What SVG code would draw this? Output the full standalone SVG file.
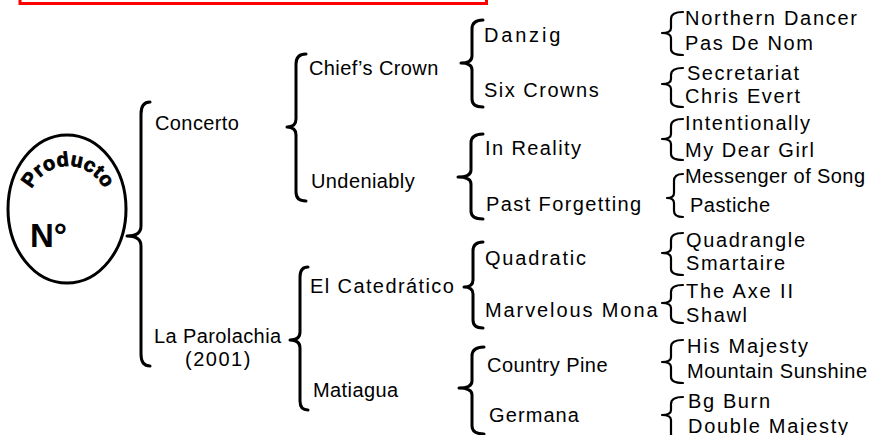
<svg xmlns="http://www.w3.org/2000/svg" width="875" height="435" viewBox="0 0 875 435">
<defs>
<style>
.br{fill:none;stroke:#000;stroke-width:3;stroke-linecap:round;stroke-linejoin:round}
.br4{fill:none;stroke:#000;stroke-width:2.2;stroke-linecap:round;stroke-linejoin:round}
text{font-family:"Liberation Sans",Arial,sans-serif;fill:#000}
.l1{font-size:20px;letter-spacing:0.4px}
.l3{font-size:20px}
.l4{font-size:20px}
.bold{font-weight:bold}
</style>
<path id="arc" d="M 30.4,219.7 A 40,40 0 1,1 105.6,219.7"/>
</defs>
<rect x="20" y="-20" width="466.5" height="23.5" fill="none" stroke="#ff0000" stroke-width="3"/>
<g id="producto">
<ellipse cx="67" cy="209" rx="59" ry="74" fill="#fff" stroke="#000" stroke-width="3"/>
<text class="bold" font-size="20" stroke="#000" stroke-width="0.8" style="letter-spacing:0.3px"><textPath href="#arc" startOffset="50%" text-anchor="middle">Producto</textPath></text>
<text class="bold" x="30" y="247" font-size="33">N°</text>
</g>
<g id="connectors">
<path class="br" d="M150,102 Q141,102 141,114 L141,226 Q141,236 127,236 Q141,236 141,246 L141,354 Q141,366 150,366"/>
<path class="br" d="M306,54 Q296,54 296,64 L296,119 Q296,127 287,127 Q296,127 296,135 L296,192 Q296,201 306,201"/>
<path class="br" d="M308,267 Q300,267 300,277 L300,332 Q300,340 290,340 Q300,340 300,348 L300,401 Q300,410 308,410"/>
<path class="br" d="M483,20 Q472,20 472,29 L472,56 Q472,63 461,63 Q472,63 472,70 L472,99 Q472,107 483,107"/>
<path class="br" d="M483,134 Q471,134 471,143 L471,170 Q471,177 458,177 Q471,177 471,184 L471,211 Q471,219 483,219"/>
<path class="br" d="M483,242 Q473,242 473,251 L473,280 Q473,287 464,287 Q473,287 473,294 L473,320 Q473,328 483,328"/>
<path class="br" d="M484,347 Q472,347 472,356 L472,381 Q472,388 459,388 Q472,388 472,395 L472,426 Q472,434 484,434"/>
<path class="br4" d="M683,12 Q671,12 671,19 L671,28 Q671,33 662,33 Q671,33 671,38 L671,49 Q671,55 683,55"/>
<path class="br4" d="M683,68 Q671,68 671,75 L671,79 Q671,84 662,84 Q671,84 671,89 L671,101 Q671,107 683,107"/>
<path class="br4" d="M683,119 Q671,119 671,126 L671,134 Q671,139 662,139 Q671,139 671,144 L671,154 Q671,160 683,160"/>
<path class="br4" d="M683,174 Q674,174 674,181 L674,193 Q674,198 667,198 Q674,198 674,203 L674,211 Q674,217 683,217"/>
<path class="br4" d="M683,233 Q671,233 671,240 L671,248 Q671,253 662,253 Q671,253 671,258 L671,269 Q671,275 683,275"/>
<path class="br4" d="M683,285 Q671,285 671,292 L671,298 Q671,303 662,303 Q671,303 671,308 L671,317 Q671,323 683,323"/>
<path class="br4" d="M683,340 Q671,340 671,347 L671,357 Q671,362 662,362 Q671,362 671,367 L671,377 Q671,383 683,383"/>
<path class="br4" d="M683,397 Q671,397 671,404 L671,410 Q671,415 662,415 Q671,415 671,420 L671,434 Q671,440 683,440"/>
</g>
<g id="concerto"><text class="l1" x="155" y="130">Concerto</text></g>
<g id="la-parolachia"><text class="l1" x="154" y="343">La Parolachia</text><text class="l1" x="185" y="366" style="letter-spacing:1.5px">(2001)</text></g>
<g id="chiefs-crown"><text class="l1" x="309" y="75">Chief’s Crown</text></g>
<g id="undeniably"><text class="l1" x="311" y="188">Undeniably</text></g>
<g id="el-catedratico"><text class="l1" x="310" y="293" style="letter-spacing:1.4px">El Catedrático</text></g>
<g id="matiagua"><text class="l1" x="313" y="397">Matiagua</text></g>
<g id="danzig"><text class="l3" x="484" y="42" style="letter-spacing:2.8px">Danzig</text></g>
<g id="six-crowns"><text class="l3" x="484" y="97" style="letter-spacing:1.5px">Six Crowns</text></g>
<g id="in-reality"><text class="l3" x="485" y="155" style="letter-spacing:1.4px">In Reality</text></g>
<g id="past-forgetting"><text class="l3" x="486" y="211" style="letter-spacing:1.4px">Past Forgetting</text></g>
<g id="quadratic"><text class="l3" x="485" y="265" style="letter-spacing:1.8px">Quadratic</text></g>
<g id="marvelous-mona"><text class="l3" x="485" y="317" style="letter-spacing:1.9px">Marvelous Mona</text></g>
<g id="country-pine"><text class="l3" x="487" y="372" style="letter-spacing:0.45px">Country Pine</text></g>
<g id="germana"><text class="l3" x="489" y="422" style="letter-spacing:1.1px">Germana</text></g>
<g id="northern-dancer"><text class="l4" x="685" y="25" textLength="172" lengthAdjust="spacing">Northern Dancer</text></g>
<g id="pas-de-nom"><text class="l4" x="685" y="50" textLength="128" lengthAdjust="spacing">Pas De Nom</text></g>
<g id="secretariat"><text class="l4" x="687" y="80" textLength="112" lengthAdjust="spacing">Secretariat</text></g>
<g id="chris-evert"><text class="l4" x="685" y="103" textLength="115" lengthAdjust="spacing">Chris Evert</text></g>
<g id="intentionally"><text class="l4" x="685" y="130" textLength="125" lengthAdjust="spacing">Intentionally</text></g>
<g id="my-dear-girl"><text class="l4" x="685" y="157" textLength="129" lengthAdjust="spacing">My Dear Girl</text></g>
<g id="messenger-of-song"><text class="l4" x="685" y="183" textLength="180" lengthAdjust="spacing">Messenger of Song</text></g>
<g id="pastiche"><text class="l4" x="690" y="212" textLength="80" lengthAdjust="spacing">Pastiche</text></g>
<g id="quadrangle"><text class="l4" x="686" y="247" textLength="119" lengthAdjust="spacing">Quadrangle</text></g>
<g id="smartaire"><text class="l4" x="686" y="270" textLength="99" lengthAdjust="spacing">Smartaire</text></g>
<g id="the-axe-ii"><text class="l4" x="686" y="298" textLength="107" lengthAdjust="spacing">The Axe II</text></g>
<g id="shawl"><text class="l4" x="686" y="322" textLength="61" lengthAdjust="spacing">Shawl</text></g>
<g id="his-majesty"><text class="l4" x="687" y="353" textLength="121" lengthAdjust="spacing">His Majesty</text></g>
<g id="mountain-sunshine"><text class="l4" x="687" y="378" textLength="180" lengthAdjust="spacing">Mountain Sunshine</text></g>
<g id="bg-burn"><text class="l4" x="688" y="408" textLength="82" lengthAdjust="spacing">Bg Burn</text></g>
<g id="double-majesty"><text class="l4" x="688" y="433" textLength="160" lengthAdjust="spacing">Double Majesty</text></g>
</svg>
